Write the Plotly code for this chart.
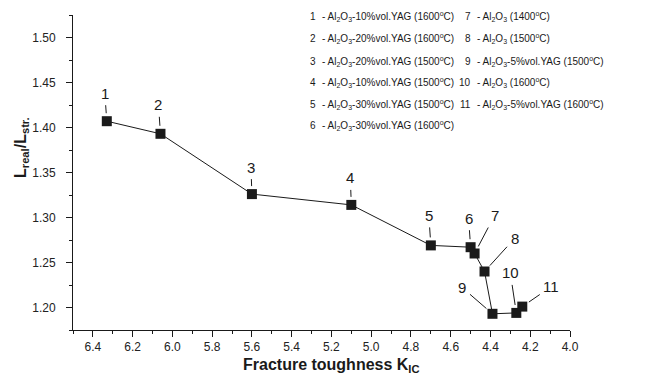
import plotly.graph_objects as go

# Data
point_labels = ["1", "2", "3", "4", "5", "6", "7", "8", "9", "10", "11"]
k_ic = [6.33, 6.06, 5.60, 5.10, 4.70, 4.50, 4.48, 4.43, 4.39, 4.27, 4.24]
l_ratio = [1.407, 1.393, 1.326, 1.314, 1.269, 1.267, 1.260, 1.240, 1.193, 1.194, 1.201]

legend_col1 = [
    ("1", "- Al<sub>2</sub>O<sub>3</sub>-10%vol.YAG (1600<sup>o</sup>C)"),
    ("2", "- Al<sub>2</sub>O<sub>3</sub>-20%vol.YAG (1600<sup>o</sup>C)"),
    ("3", "- Al<sub>2</sub>O<sub>3</sub>-20%vol.YAG (1500<sup>o</sup>C)"),
    ("4", "- Al<sub>2</sub>O<sub>3</sub>-10%vol.YAG (1500<sup>o</sup>C)"),
    ("5", "- Al<sub>2</sub>O<sub>3</sub>-30%vol.YAG (1500<sup>o</sup>C)"),
    ("6", "- Al<sub>2</sub>O<sub>3</sub>-30%vol.YAG (1600<sup>o</sup>C)"),
]
legend_col2 = [
    ("7", "- Al<sub>2</sub>O<sub>3</sub> (1400<sup>o</sup>C)"),
    ("8", "- Al<sub>2</sub>O<sub>3</sub> (1500<sup>o</sup>C)"),
    ("9", "- Al<sub>2</sub>O<sub>3</sub>-5%vol.YAG (1500<sup>o</sup>C)"),
    ("10", "- Al<sub>2</sub>O<sub>3</sub> (1600<sup>o</sup>C)"),
    ("11", "- Al<sub>2</sub>O<sub>3</sub>-5%vol.YAG (1600<sup>o</sup>C)"),
]

x_ticks = [6.4, 6.2, 6.0, 5.8, 5.6, 5.4, 5.2, 5.0, 4.8, 4.6, 4.4, 4.2, 4.0]
y_ticks = [1.20, 1.25, 1.30, 1.35, 1.40, 1.45, 1.50]

x_title = "<b>Fracture toughness K<sub>IC</sub></b>"
y_title = "<b>L<sub>real</sub>/L<sub>str.</sub></b>"

# label offsets (pixels) of each point's number
label_offsets = [(-2, -28), (-2, -29), (-1, -27), (-1, -27), (-2, -30), (-2, -29),
                 (20, -38), (30, -33), (-30, -26), (-6, -40), (29, -20)]

FONT = "Liberation Sans, Arial, sans-serif"
INK = "#1a1a1a"

fig = go.Figure()
fig.add_trace(go.Scatter(
    x=k_ic, y=l_ratio, mode="lines+markers",
    line=dict(color=INK, width=1),
    marker=dict(symbol="square", size=10, color=INK),
    showlegend=False, hoverinfo="skip",
))

annotations = []
for lbl, xv, yv, (ax, ay) in zip(point_labels, k_ic, l_ratio, label_offsets):
    annotations.append(dict(
        x=xv, y=yv, xref="x", yref="y", text=lbl, showarrow=True,
        ax=ax, ay=ay, arrowhead=0, arrowwidth=1, arrowcolor=INK,
        standoff=8, borderpad=3,
        font=dict(family=FONT, size=15, color=INK),
    ))

# page has an 8 px body margin; plot area in window px: x 73..570, y 15..330
OFF = 8
def px_x(p):
    return (p - 73) / 497.0

def px_y(p):
    return (330 - p) / 315.0

row_px = [17, 39, 61, 82, 104, 125]
legend_font = dict(family=FONT, size=10, color=INK)
for (num, txt), ry in zip(legend_col1, row_px):
    annotations.append(dict(x=px_x(318), y=px_y(ry), xref="paper", yref="paper", text=num,
                            showarrow=False, xanchor="right", yanchor="middle", font=legend_font))
    annotations.append(dict(x=px_x(320), y=px_y(ry), xref="paper", yref="paper", text=txt,
                            showarrow=False, xanchor="left", yanchor="middle", font=legend_font))
for (num, txt), ry in zip(legend_col2, row_px):
    annotations.append(dict(x=px_x(473), y=px_y(ry), xref="paper", yref="paper", text=num,
                            showarrow=False, xanchor="right", yanchor="middle", font=legend_font))
    annotations.append(dict(x=px_x(475), y=px_y(ry), xref="paper", yref="paper", text=txt,
                            showarrow=False, xanchor="left", yanchor="middle", font=legend_font))

# axis titles
annotations.append(dict(x=px_x(21), y=px_y(148), xref="paper", yref="paper", text=y_title,
                        textangle=-90, showarrow=False, xanchor="center", yanchor="middle",
                        font=dict(family=FONT, size=16, color=INK)))
annotations.append(dict(x=px_x(331), y=px_y(365), xref="paper", yref="paper", text=x_title,
                        showarrow=False, xanchor="center", yanchor="middle",
                        font=dict(family=FONT, size=16, color=INK)))

fig.update_layout(
    width=648 - OFF, height=382 - OFF,
    margin=dict(l=73 - OFF, r=78, t=15 - OFF, b=52),
    paper_bgcolor="white", plot_bgcolor="white",
    font=dict(family=FONT, color=INK),
    annotations=annotations,
    xaxis=dict(
        range=[6.5, 4.0], tickvals=x_ticks, ticktext=[f"{v:.1f}" for v in x_ticks],
        automargin=False,
        showgrid=False, zeroline=False, showline=True, linecolor=INK, linewidth=1,
        ticks="outside", ticklen=6, tickcolor=INK, tickwidth=1,
        tickfont=dict(family=FONT, size=12, color="#222"),
        minor=dict(ticks="outside", ticklen=3, dtick=0.1, tick0=4.0, tickcolor=INK, showgrid=False),
    ),
    yaxis=dict(
        range=[1.175, 1.525], tickvals=y_ticks, ticktext=[f"{v:.2f}" for v in y_ticks],
        automargin=False,
        showgrid=False, zeroline=False, showline=True, linecolor=INK, linewidth=1,
        ticks="outside", ticklen=6, tickcolor=INK, tickwidth=1,
        ticklabelstandoff=8,
        tickfont=dict(family=FONT, size=12, color="#222"),
        minor=dict(ticks="outside", ticklen=3, dtick=0.025, tick0=1.175, tickcolor=INK, showgrid=False),
    ),
)

fig.write_html("out.html")
